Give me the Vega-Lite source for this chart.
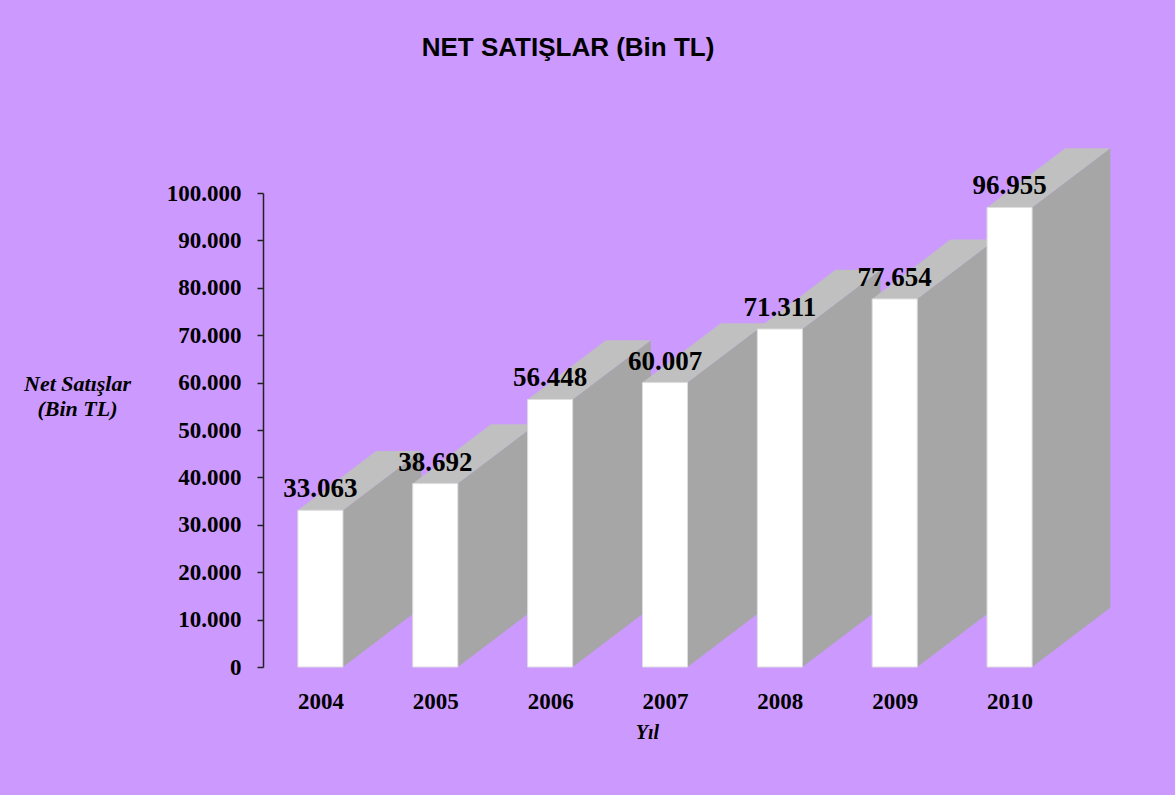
{
  "$schema": "https://vega.github.io/schema/vega-lite/v6.json",
  "width": 804,
  "height": 474,
  "autosize": {"type": "none"},
  "padding": {"left": 263, "top": 193, "right": 108, "bottom": 128},
  "background": "#CC99FF",
  "config": {
    "view": {"stroke": null},
    "locale": {"number": {"decimal": ",", "thousands": ".", "grouping": [3], "currency": ["", ""]}}
  },
  "title": {
    "text": "NET SATIŞLAR (Bin TL)",
    "font": "Liberation Sans",
    "fontSize": 26,
    "fontWeight": "bold",
    "color": "#000000",
    "anchor": "middle",
    "frame": "group",
    "baseline": "alphabetic",
    "dx": -97,
    "offset": 66
  },
  "data": {
    "values": [
      {"year": "2004", "value": 33063},
      {"year": "2005", "value": 38692},
      {"year": "2006", "value": 56448},
      {"year": "2007", "value": 60007},
      {"year": "2008", "value": 71311},
      {"year": "2009", "value": 77654},
      {"year": "2010", "value": 96955}
    ]
  },
  "transform": [
    {"calculate": "toNumber(datum.year) - 2004 + 0.5", "as": "cx"},
    {"calculate": "datum.cx - 0.196", "as": "xl"},
    {"calculate": "datum.cx + 0.196", "as": "xr"}
  ],
  "layer": [
    {
      "mark": {"type": "bar", "color": "#FFFFFF", "opacity": 0},
      "encoding": {
        "x": {
          "field": "xl", "type": "quantitative",
          "scale": {"domain": [0, 7], "nice": false, "zero": false},
          "axis": {
            "values": [0.5, 1.5, 2.5, 3.5, 4.5, 5.5, 6.5],
            "labelExpr": "'' + (2004 + floor(datum.value))",
            "ticks": false,
            "domain": false,
            "grid": false,
            "labelFont": "Liberation Serif",
            "labelFontWeight": "bold",
            "labelFontSize": 23,
            "labelColor": "#000000",
            "labelPadding": 23,
            "title": "Yıl",
            "titleFont": "Liberation Serif",
            "titleFontStyle": "italic",
            "titleFontWeight": "bold",
            "titleFontSize": 20,
            "titleColor": "#000000",
            "titleAnchor": "start",
            "titleAlign": "center",
            "titleBaseline": "alphabetic",
            "titleX": 384,
            "titleY": 71
          }
        },
        "x2": {"field": "xr"},
        "y": {
          "field": "value", "type": "quantitative",
          "scale": {"domain": [0, 100000], "nice": false},
          "axis": {
            "values": [0, 10000, 20000, 30000, 40000, 50000, 60000, 70000, 80000, 90000, 100000],
            "labelExpr": "replace(format(datum.value, ','), ',', '.')",
            "grid": false,
            "domainColor": "#222222",
            "domainWidth": 1.5,
            "tickColor": "#222222",
            "tickWidth": 1.5,
            "tickSize": 6,
            "labelFont": "Liberation Serif",
            "labelFontWeight": "bold",
            "labelFontSize": 23,
            "labelColor": "#000000",
            "labelPadding": 16,
            "title": ["Net Satışlar", "(Bin TL)"],
            "titleAngle": 0,
            "titleAlign": "center",
            "titleBaseline": "alphabetic",
            "titleX": -186,
            "titleY": 197,
            "titleFont": "Liberation Serif",
            "titleFontStyle": "italic",
            "titleFontWeight": "bold",
            "titleFontSize": 22,
            "titleLineHeight": 25,
            "titleColor": "#000000"
          }
        },
        "y2": {"datum": 0}
      }
    },
    {
      "transform": [
        {"calculate": "[datum.xr, datum.xr + 0.681]", "as": "sx"},
        {"calculate": "[0, 12510]", "as": "slo"},
        {"calculate": "[datum.value, datum.value + 12510]", "as": "shi"},
        {"flatten": ["sx", "slo", "shi"]}
      ],
      "mark": {"type": "area", "color": "#A6A6A6", "opacity": 1},
      "encoding": {
        "x": {"field": "sx", "type": "quantitative", "scale": {"domain": [0, 7], "nice": false, "zero": false}},
        "y": {"field": "slo", "type": "quantitative", "scale": {"domain": [0, 100000], "nice": false}},
        "y2": {"field": "shi"},
        "detail": {"field": "year"}
      }
    },
    {
      "transform": [
        {"calculate": "[datum.value, datum.value + 12510]", "as": "ty"},
        {"calculate": "[datum.xl, datum.xl + 0.681]", "as": "tx1"},
        {"calculate": "[datum.xr, datum.xr + 0.681]", "as": "tx2"},
        {"flatten": ["ty", "tx1", "tx2"]}
      ],
      "mark": {"type": "area", "orient": "horizontal", "color": "#C0C0C0", "opacity": 1},
      "encoding": {
        "y": {"field": "ty", "type": "quantitative", "scale": {"domain": [0, 100000], "nice": false}},
        "x": {"field": "tx1", "type": "quantitative", "scale": {"domain": [0, 7], "nice": false, "zero": false}},
        "x2": {"field": "tx2"},
        "detail": {"field": "year"}
      }
    },
    {
      "mark": {"type": "bar", "color": "#FFFFFF", "stroke": "#DDDDDD", "strokeWidth": 1},
      "encoding": {
        "x": {"field": "xl", "type": "quantitative", "scale": {"domain": [0, 7], "nice": false, "zero": false}},
        "x2": {"field": "xr"},
        "y": {"field": "value", "type": "quantitative", "scale": {"domain": [0, 100000], "nice": false}},
        "y2": {"datum": 0}
      }
    },
    {
      "mark": {"type": "text", "font": "Liberation Serif", "fontWeight": "bold", "fontSize": 27, "color": "#000000", "baseline": "alphabetic", "align": "center", "dy": -13},
      "encoding": {
        "x": {"field": "cx", "type": "quantitative", "scale": {"domain": [0, 7], "nice": false, "zero": false}},
        "y": {"field": "value", "type": "quantitative", "scale": {"domain": [0, 100000], "nice": false}},
        "text": {"field": "value", "type": "quantitative", "format": ","}
      }
    }
  ]
}
